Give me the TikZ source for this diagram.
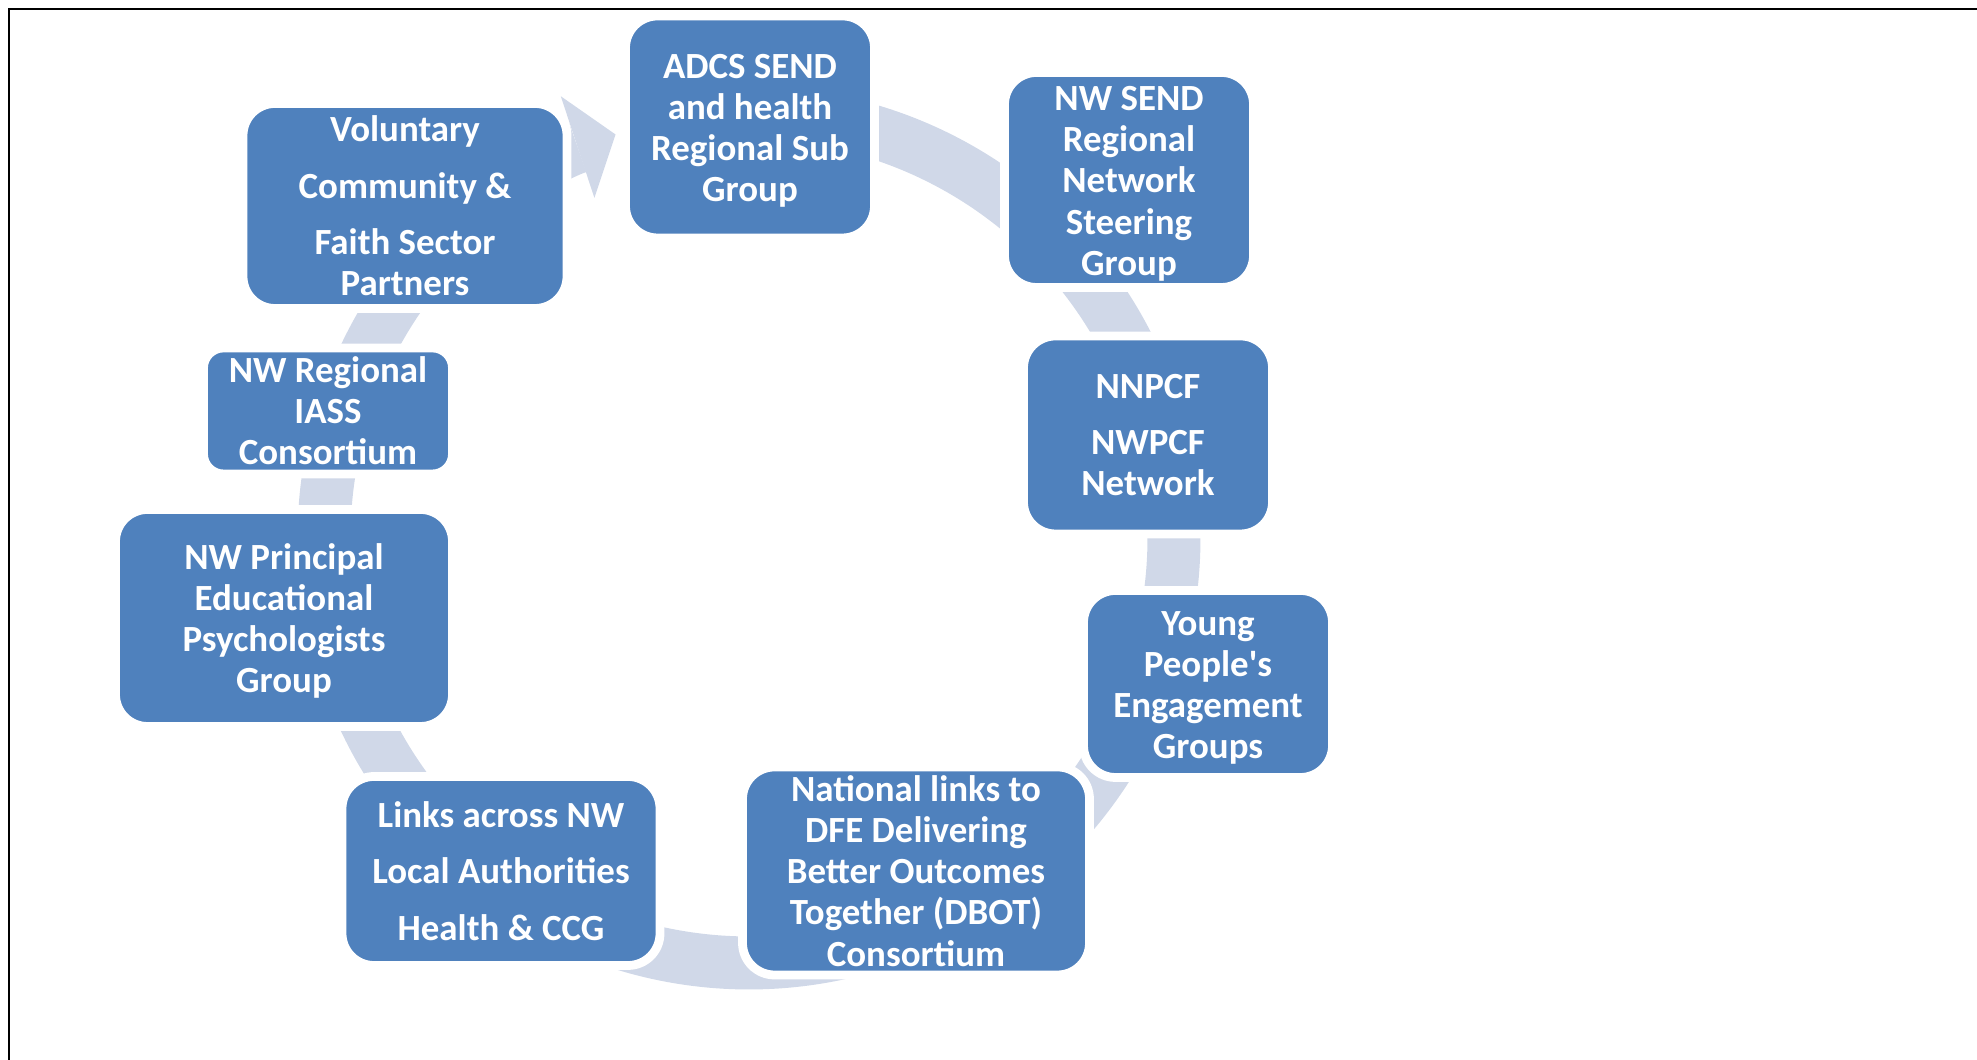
\documentclass[tikz,border=0pt]{standalone}
\usepackage{fontspec}
\setmainfont{Carlito}
\usetikzlibrary{arrows.meta,backgrounds,calc}
\definecolor{boxblue}{RGB}{79,129,189}
\definecolor{ringblue}{RGB}{208,216,232}
\newcommand{\ringR}{4.25cm}
\newcommand{\topgap}{\rule{0pt}{9pt}}
\newcommand{\ringlink}[3][]{%
  \draw[ring,#1] let \p1=($(#2)-(hub)$), \p2=($(#3)-(hub)$),
    \n1={atan2(\y1,\x1)}, \n2={atan2(\y2,\x2)},
    \n3={ifthenelse(\n2>\n1,\n2-360,\n2)} in
    ($(hub)+(\n1:\ringR)$) arc[start angle=\n1,end angle=\n3,radius=\ringR]}
\begin{document}
\begin{tikzpicture}
        [box/.style ={draw=white,line width=2.5pt,fill=boxblue,rounded corners=0.32cm,
          text=white,font=\bfseries\fontsize{10.5}{11.7}\selectfont,align=center,inner sep=0pt,minimum width=2.49cm},
         ring/.style ={draw=ringblue,line width=0.53cm}]
        \useasboundingbox (0,0) rectangle (19.77,10.60);
        \draw[line width=0.65pt] (0.09,0) -- (0.09,10.51) -- (19.77,10.51);
        \coordinate (hub) at (7.49,5.22);
        \coordinate (tip) at ($(hub)+(108.3:\ringR)$);
        \node[box,minimum height=2.22cm] (adcs) at (7.50,9.33){\topgap ADCS SEND\\and health\\Regional Sub\\Group};
        \node[box,minimum height=2.15cm] (send) at (11.29,8.80){\topgap NW SEND\\Regional\\Network\\Steering\\Group};
        \node[box,minimum height=1.98cm] (nnpcf) at (11.48,6.25){NNPCF\\[4.4pt]NWPCF\\Network};
        \node[box,minimum height=1.87cm] (young) at (12.08,3.76){\topgap Young\\People\textquotesingle s\\Engagement\\Groups};
        \node[box,minimum width=3.47cm,minimum height=2.08cm] (natl) at (9.16,1.89){National links to\\DFE Delivering\\Better Outcomes\\Together (DBOT)\\Consortium};
        \node[box,minimum width=3.18cm,minimum height=1.89cm] (links) at (5.01,1.89){Links across NW\\[4.4pt]Local Authorities\\[4.4pt]Health \& CCG};
        \node[box,minimum width=3.37cm,minimum height=2.17cm] (epg) at (2.84,4.42){\topgap NW Principal\\Educational\\Psychologists\\Group};
        \node[box,minimum height=1.26cm,rounded corners=0.2cm] (iass) at (3.28,6.49){NW Regional\\IASS\\Consortium};
        \node[box,minimum width=3.24cm,minimum height=2.05cm] (vol) at (4.05,8.54){Voluntary\\[4.4pt]Community \&\\[4.4pt]Faith Sector\\Partners};
        \begin{scope}[on background layer]
          \foreach \a/\b in {adcs/send,send/nnpcf,nnpcf/young,young/natl,natl/links,links/epg,epg/iass,iass/vol}
            {\ringlink{\a}{\b};}
          \ringlink[-{Triangle[width=1.07cm,length=0.4cm,line width=0pt]}]{vol}{tip};
        \end{scope}
    \end{tikzpicture}
\end{document}
